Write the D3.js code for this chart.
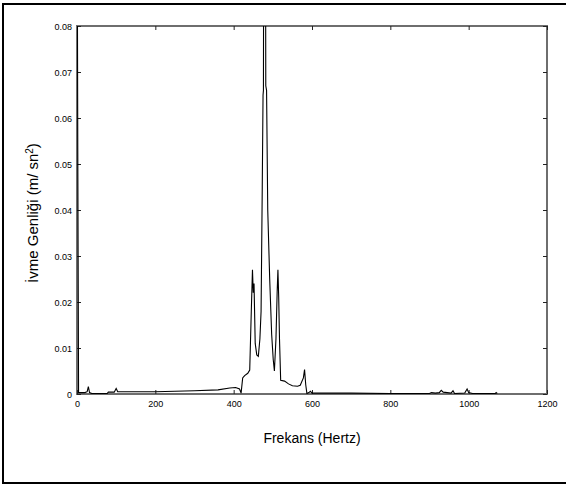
<!DOCTYPE html>
<html><head><meta charset="utf-8">
<script src="https://cdn.jsdelivr.net/npm/d3@7"></script>
<style>body{margin:0;background:#fff}svg{display:block}</style>
</head><body>
<svg id="c" width="566" height="485"></svg>
<script>
const freqs = [0,2,4,20,26,29,32,38,77,80,95,100,104,200,300,360,390,405,415,419,423,428,436,441,445,448,450,452,455,459,463,467,470,473,475,476,477,481,482,484,487,492,497,501,504,508,511,513,515,517,520,530,540,550,563,570,578,581,584,587,592,596,600,700,800,900,905,915,925,930,935,955,960,964,990,996,1000,1010,1068,1070,1073];
const amps = [0.12,0.053,0.0003,0.0003,0.0005,0.0016,0.0003,0.0001,0.0001,0.0004,0.0004,0.0012,0.0005,0.0005,0.0007,0.0009,0.0013,0.0014,0.0011,0.0002,0.0035,0.0040,0.0045,0.0052,0.018,0.027,0.022,0.024,0.011,0.0085,0.0082,0.012,0.018,0.045,0.065,0.066,0.12,0.12,0.067,0.066,0.040,0.025,0.013,0.0075,0.005,0.012,0.022,0.027,0.021,0.012,0.003,0.0028,0.0022,0.0018,0.0017,0.0019,0.0035,0.0053,0.002,0.0001,0.0003,0.0006,0.0002,0.0002,0.0001,0.0001,0.0003,0.0002,0.0003,0.0008,0.0004,0.0002,0.0007,0.0001,0.0002,0.0011,0.0003,0.0001,0.0001,0.0003,0.0001];
const xTicks = [0,200,400,600,800,1000,1200];
const yTicks = [0,0.01,0.02,0.03,0.04,0.05,0.06,0.07,0.08];
const xTickLabels = ["0","200","400","600","800","1000","1200"];
const yTickLabels = ["0","0.01","0.02","0.03","0.04","0.05","0.06","0.07","0.08"];
const xTitle = "Frekans (Hertz)";

const svg = d3.select("#c");
const L=77, R=547, T=26, B=394;
const x = d3.scaleLinear().domain([0,1200]).range([L,R]);
const y = d3.scaleLinear().domain([0,0.08]).range([B,T]);

svg.append("rect").attr("x",3).attr("y",4).attr("width",570).attr("height",479)
  .attr("fill","none").attr("stroke","#000").attr("stroke-width",2);

svg.append("defs").append("clipPath").attr("id","clip")
  .append("rect").attr("x",L).attr("y",T).attr("width",R-L).attr("height",B-T);

const data = freqs.map((f,i)=>({f, a:amps[i]}));
const line = d3.line().x(d=>x(d.f)).y(d=>y(d.a));

svg.append("rect").attr("x",L).attr("y",T).attr("width",R-L).attr("height",B-T)
  .attr("fill","none").attr("stroke","#6e6e6e").attr("stroke-width",2);

const font = "'Liberation Sans', Arial, sans-serif";
const xb = svg.append("g").attr("transform",`translate(0,${B})`)
  .call(d3.axisBottom(x).tickValues(xTicks).tickSize(-4).tickPadding(7).tickFormat((d,i)=>xTickLabels[i]));
const xt = svg.append("g").attr("transform",`translate(0,${T})`)
  .call(d3.axisTop(x).tickValues(xTicks).tickSize(-4).tickFormat(""));
const yl = svg.append("g").attr("transform",`translate(${L},0)`)
  .call(d3.axisLeft(y).tickValues(yTicks).tickSize(-4).tickPadding(5).tickFormat((d,i)=>yTickLabels[i]));
const yr = svg.append("g").attr("transform",`translate(${R},0)`)
  .call(d3.axisRight(y).tickValues(yTicks).tickSize(-4).tickFormat(""));
[xb,xt,yl,yr].forEach(g=>{
  g.select(".domain").remove();
  g.selectAll(".tick line").attr("stroke","#222").attr("stroke-width",1);
  g.selectAll(".tick text").attr("fill","#000").style("font-family",font).style("font-size","9px");
});
yl.selectAll(".tick text").attr("dy","0.35em");

svg.append("path").datum(data).attr("clip-path","url(#clip)")
  .attr("d",line).attr("fill","none").attr("stroke","#000").attr("stroke-width",1.1)
  .attr("stroke-linejoin","miter");

svg.append("text").attr("x",312).attr("y",443).attr("text-anchor","middle")
  .style("font-family",font).style("font-size","14px").text(xTitle);

const yt = svg.append("text").attr("transform","translate(38,213) rotate(-90)")
  .attr("text-anchor","middle").style("font-family",font).style("font-size","15px");
yt.append("tspan").text("İvme Genliği (m/ sn");
yt.append("tspan").attr("baseline-shift","super").style("font-size","10px").text("2");
yt.append("tspan").text(")");
</script>
</body></html>
